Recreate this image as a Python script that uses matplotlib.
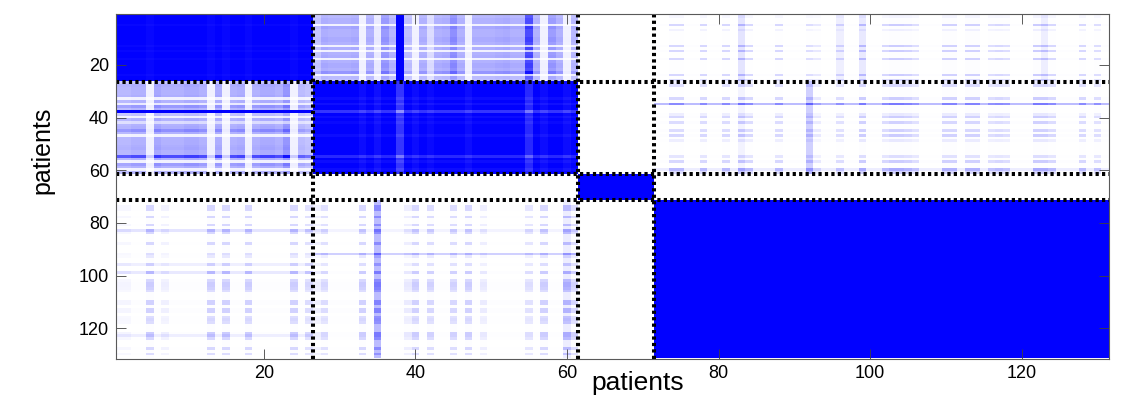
import numpy as np
import matplotlib
matplotlib.use("Agg")
import matplotlib.pyplot as plt
from matplotlib.colors import LinearSegmentedColormap

# ---------------- data ----------------
cluster_sizes = [26, 35, 10, 60]          # patients per consensus cluster
cluster_edges = [26.5, 61.5, 71.5]        # dotted separators
tick_values = [20, 40, 60, 80, 100, 120]

within_level = 0.99                        # co-clustering inside a cluster
within_dip = {38: 0.20, 55: 0.15, 33: 0.04, 35: 0.05, 40: 0.04, 42: 0.03,
              47: 0.04, 57: 0.04, 60: 0.04, 5: 0.02, 13: 0.02, 15: 0.02,
              18: 0.02, 24: 0.02}

# plaid strength of cluster-1 / cluster-2 patients (block 1-26 x 27-61)
plaid_c1 = [0.50, 0.50, 0.55, 0.55, 0.10, 0.62, 0.55, 0.55, 0.55, 0.60,
            0.60, 0.55, 0.10, 0.58, 0.10, 0.55, 0.58, 0.10, 0.55, 0.60,
            0.60, 0.55, 0.75, 0.10, 0.48, 0.42]
plaid_c2 = [0.40, 0.58, 0.55, 0.55, 0.55, 0.58, 0.10, 0.55, 0.15, 0.72,
            0.52, 0.90, 0.45, 0.10, 0.55, 0.25, 0.55, 0.58, 0.80, 0.55,
            0.10, 0.55, 0.55, 0.55, 0.58, 0.60, 0.55, 0.55, 1.10, 0.55,
            0.10, 0.70, 0.55, 0.10, 0.50]
bridge_12 = {38: 0.90, 55: 0.10}

# weak affinity between clusters 1/2 and cluster 4
leak_c12 = {1: 0.10, 2: 0.10, 5: 0.45, 7: 0.15, 13: 0.45, 15: 0.45,
            18: 0.45, 24: 0.45, 26: 0.35, 27: 0.15, 28: 0.35, 33: 0.45,
            35: 0.60, 39: 0.20, 40: 0.45, 42: 0.40, 45: 0.40, 47: 0.45,
            49: 0.20, 55: 0.30, 57: 0.45, 60: 0.60, 61: 0.40}
leak_c4 = {74: 0.35, 75: 0.35, 78: 0.35, 81: 0.35, 83: 0.45, 84: 0.35,
           88: 0.35, 92: 0.30, 93: 0.20, 96: 0.30, 99: 0.45, 102: 0.35,
           103: 0.45, 104: 0.45, 105: 0.40, 106: 0.30, 110: 0.40,
           111: 0.40, 113: 0.40, 114: 0.40, 116: 0.30, 117: 0.35,
           118: 0.30, 122: 0.45, 123: 0.45, 124: 0.35, 128: 0.35, 130: 0.30}
leak_default = 0.02
line_c12_to4 = {35: 0.25, 60: 0.06}
line_c4_to1 = {83: 0.10, 96: 0.06, 99: 0.08, 123: 0.06}
line_c4_to2 = {92: 0.18, 83: 0.04}

# ---------------- build the symmetric matrix ----------------
n = sum(cluster_sizes)
ids = np.arange(1, n + 1)
lab = np.repeat(np.arange(len(cluster_sizes)), cluster_sizes)

def vec(d, default=0.0):
    return np.array([d.get(k, default) for k in ids], dtype=float)

dip = vec(within_dip)
plaid = np.zeros(n)
plaid[:26] = plaid_c1
plaid[26:61] = plaid_c2
bridge = vec(bridge_12)
leak = vec({**leak_c12, **leak_c4}, leak_default)
lt4 = vec(line_c12_to4)
lt1 = vec(line_c4_to1)
lt2 = vec(line_c4_to2)

M = np.zeros((n, n))
LI, LJ = lab[:, None], lab[None, :]
same = LI == LJ
W = within_level - dip[:, None] - dip[None, :] - 4 * dip[:, None] * dip[None, :]
M[same] = W[same]

P = np.outer(plaid, plaid) + bridge[:, None] + bridge[None, :]
m12 = ((LI == 0) & (LJ == 1)) | ((LI == 1) & (LJ == 0))
M[m12] = P[m12]

L = np.outer(leak, leak)
for a, lt in ((0, lt1), (1, lt2)):
    mask = (LI == a) & (LJ == 3)
    V = L + lt4[:, None] + lt[None, :]
    M[mask] = V[mask]
    M[mask.T] = V.T[mask.T]
M = np.clip(M, 0, 1)

# ---------------- plot ----------------
plt.rcParams['font.family'] = ['Liberation Sans', 'DejaVu Sans']
cmap = LinearSegmentedColormap.from_list('wb', [(1, 1, 1), (0, 0, 1)])

fig = plt.figure(figsize=(11.31, 4.0), dpi=100)
ax = fig.add_axes([116 / 1131, 1 - 358.5 / 400, 993 / 1131, 345 / 400])
ax.imshow(M, cmap=cmap, vmin=0, vmax=1, aspect='auto', interpolation='nearest',
          extent=(0.5, n + 0.5, n + 0.5, 0.5))

for e in cluster_edges:
    ax.axvline(e, color='black', lw=2.9, linestyle=(0, (0.8, 0.8)),
               dash_capstyle='butt')
    ax.axhline(e, color='black', lw=2.9, linestyle=(0, (0.8, 0.8)),
               dash_capstyle='butt')

ax.set_xlim(0.5, n + 0.5)
ax.set_ylim(n + 0.5, 0.5)
ax.set_xticks(tick_values)
ax.set_yticks(tick_values)
ax.set_xticklabels([str(t) for t in tick_values])
ax.set_yticklabels([str(t) for t in tick_values])
ax.tick_params(direction='in', length=7, width=0.6, color='0.25',
               top=True, right=True, labelsize=13, pad=5)
for s in ax.spines.values():
    s.set_color('0.35')
    s.set_linewidth(0.8)

fig.text(42 / 1131, 1 - 150 / 400, 'patients', rotation=90, ha='center',
         va='center', fontsize=18)
fig.text(638 / 1131, 1 - 383 / 400, 'patients', ha='center', va='center',
         fontsize=19)

fig.savefig('out.png', dpi=100)
